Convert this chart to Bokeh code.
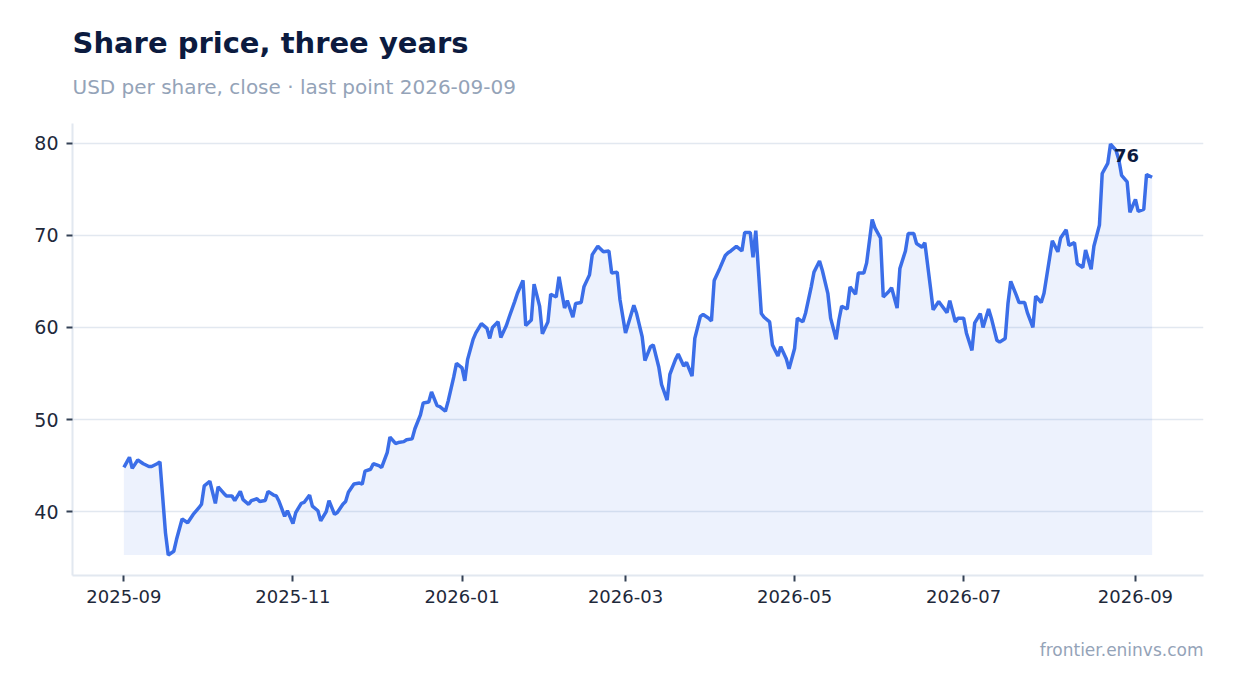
import pandas as pd

from bokeh.embed import file_html
from bokeh.models import (ColumnDataSource, DatetimeTickFormatter, Label,
                          MonthsTicker, Range1d, SingleIntervalTicker, Title)
from bokeh.plotting import figure
from bokeh.resources import INLINE

# Data (days after 2025-09-01, close in USD)
start_date = "2025-09-01"
days = [0, 2, 3, 5, 7, 9, 10, 12, 13, 15, 16, 18, 19, 21, 23, 25, 27, 28, 29, 31,
        33, 34, 36, 37, 39, 40, 42, 43, 45, 46, 48, 49, 51, 52, 54, 55, 56, 58, 59, 61,
        62, 64, 65, 67, 68, 70, 71, 73, 74, 76, 77, 79, 80, 81, 83, 85, 86, 87, 89, 90,
        92, 93, 95, 96, 98, 99, 101, 102, 104, 105, 107, 108, 110, 111, 113, 114, 116, 117, 119, 120,
        122, 123, 124, 126, 127, 129, 131, 132, 133, 135, 136, 138, 139, 141, 142, 144, 145, 147, 148, 150,
        151, 153, 154, 156, 157, 159, 160, 162, 163, 165, 166, 168, 169, 171, 172, 173, 175, 176, 178, 179,
        181, 184, 185, 187, 188, 190, 191, 193, 194, 196, 197, 199, 200, 202, 203, 205, 206, 208, 209, 211,
        212, 213, 215, 217, 218, 219, 221, 223, 224, 226, 227, 228, 230, 231, 233, 234, 236, 237, 239, 240,
        242, 243, 245, 246, 248, 249, 251, 252, 254, 255, 257, 258, 259, 261, 262, 264, 265, 267, 268, 270,
        271, 273, 274, 276, 277, 279, 280, 282, 283, 285, 286, 288, 289, 291, 292, 294, 295, 297, 298, 300,
        301, 303, 304, 306, 307, 309, 310, 312, 313, 315, 316, 318, 319, 320, 322, 323, 325, 326, 328, 329,
        331, 332, 334, 335, 337, 338, 340, 341, 343, 344, 346, 347, 349, 350, 352, 353, 355, 356, 358, 359,
        360, 362, 363, 365, 366, 368, 369, 371]
close = [44.8, 45.9, 44.7, 45.6, 45.2, 44.9, 44.9, 45.2, 45.4, 37.7, 35.3, 35.7, 37.0, 39.2, 38.8, 39.7, 40.4, 40.8, 42.8, 43.3,
         40.9, 42.7, 42.0, 41.7, 41.7, 41.2, 42.2, 41.3, 40.8, 41.2, 41.4, 41.1, 41.2, 42.2, 41.8, 41.7, 41.1, 39.5, 40.1, 38.7,
         39.9, 40.9, 41.0, 41.8, 40.6, 40.1, 39.0, 40.0, 41.2, 39.7, 39.9, 40.8, 41.1, 42.1, 43.0, 43.1, 43.0, 44.4, 44.6, 45.2,
         45.0, 44.8, 46.4, 48.1, 47.4, 47.5, 47.6, 47.8, 47.9, 49.0, 50.5, 51.8, 51.9, 53.0, 51.5, 51.4, 50.9, 52.0, 54.6, 56.1,
         55.6, 54.2, 56.5, 58.7, 59.4, 60.4, 59.9, 58.8, 60.0, 60.6, 58.9, 60.2, 61.1, 62.8, 63.7, 65.1, 60.2, 60.8, 64.7, 62.3,
         59.3, 60.6, 63.6, 63.3, 65.5, 62.1, 62.9, 61.1, 62.6, 62.7, 64.4, 65.7, 67.9, 68.8, 68.5, 68.2, 68.3, 65.9, 66.0, 63.0,
         59.4, 62.4, 61.5, 59.0, 56.4, 57.9, 58.1, 55.7, 53.8, 52.1, 54.9, 56.5, 57.1, 55.8, 56.2, 54.7, 58.8, 61.2, 61.4, 61.0,
         60.7, 65.1, 66.4, 67.8, 68.1, 68.3, 68.8, 68.3, 70.3, 70.3, 67.6, 70.5, 61.5, 61.1, 60.6, 58.1, 56.9, 57.9, 56.6, 55.5,
         57.7, 61.0, 60.6, 61.6, 64.4, 66.0, 67.2, 66.2, 63.7, 61.0, 58.7, 60.8, 62.3, 62.0, 64.4, 63.6, 65.9, 65.9, 67.0, 71.7,
         70.8, 69.7, 63.3, 63.9, 64.3, 62.1, 66.4, 68.3, 70.2, 70.2, 69.1, 68.7, 69.2, 64.4, 61.9, 62.8, 62.4, 61.6, 62.9, 60.6,
         61.0, 61.0, 59.4, 57.5, 60.5, 61.5, 60.0, 62.0, 61.0, 58.6, 58.4, 58.8, 62.6, 65.0, 63.5, 62.7, 62.7, 61.6, 60.0, 63.4,
         62.7, 63.7, 67.5, 69.4, 68.2, 69.7, 70.6, 68.9, 69.2, 66.9, 66.5, 68.4, 66.3, 68.8, 71.1, 76.7, 77.8, 79.9, 79.2, 78.2,
         76.5, 75.8, 72.5, 73.9, 72.6, 72.8, 76.6, 76.3]

title_text = "Share price, three years"
subtitle_text = "USD per share, close · last point 2026-09-09"
footer_text = "frontier.eninvs.com"

dates = pd.Timestamp(start_date) + pd.to_timedelta(days, unit="D")
base = min(close)
source = ColumnDataSource(dict(date=dates, close=close, base=[base] * len(close)))

# 5% padding on each side, like the default data range
span = dates[-1] - dates[0]
x_range = Range1d(dates[0] - span * 0.05, dates[-1] + span * 0.05)
yspan = max(close) - min(close)
y_range = Range1d(min(close) - yspan * 0.05, max(close) + yspan * 0.05)

FONT = "DejaVu Sans"

p = figure(width=1234, height=693, x_axis_type="datetime",
           x_range=x_range, y_range=y_range,
           output_backend="svg", toolbar_location=None,
           min_border_left=72, min_border_right=31,
           min_border_top=123, min_border_bottom=118)
p.outline_line_color = None
p.background_fill_color = "white"
p.border_fill_color = "white"

# area under the line, then the line
p.varea(x="date", y1="base", y2="close", source=source,
        fill_color="#3b6ee8", fill_alpha=0.09)
p.line(x="date", y="close", source=source, line_color="#3b6ee8", line_width=3.5)

# last value label
last = Label(x=dates[-1], y=close[-1], text=f"{close[-1]:.0f}",
             text_font=FONT, text_font_size="18px", text_font_style="bold",
             text_color="#0c1b3f", text_align="right", text_baseline="alphabetic",
             x_offset=-13, y_offset=22)
p.add_layout(last)

# axes
p.xaxis.ticker = MonthsTicker(months=[0, 2, 4, 6, 8, 10])
p.xaxis.formatter = DatetimeTickFormatter(months="%Y-%m", days="%Y-%m", years="%Y-%m")
p.yaxis.ticker = SingleIntervalTicker(interval=10)
for ax in (p.xaxis, p.yaxis):
    ax.axis_line_color = "#e2e8f0"
    ax.axis_line_width = 2
    ax.major_tick_line_color = "#334155"
    ax.major_tick_line_width = 2
    ax.major_tick_out = 6
    ax.major_tick_in = 0
    ax.minor_tick_line_color = None
    ax.major_label_text_font = FONT
    ax.major_label_text_color = "#1e293b"
p.xaxis.major_label_text_font_size = "18px"
p.yaxis.major_label_text_font_size = "19px"
p.xaxis.major_label_standoff = 8
p.yaxis.major_label_standoff = 8

p.xgrid.grid_line_color = None
p.ygrid.grid_line_color = "#e2e8f0"
p.ygrid.grid_line_width = 1.5

# subtitle first (nearest the frame), then the title above it
p.add_layout(Title(text=subtitle_text, align="left", standoff=50,
                   text_font=FONT, text_font_size="20px", text_font_style="normal",
                   text_color="#94a3b8"), "above")
p.add_layout(Title(text=title_text, align="left", standoff=-24,
                   text_font=FONT, text_font_size="29px", text_font_style="bold",
                   text_color="#0c1b3f"), "above")
p.add_layout(Title(text=footer_text, align="right", standoff=64,
                   text_font=FONT, text_font_size="17px", text_font_style="normal",
                   text_color="#94a3b8"), "below")

open("out.html", "w").write(file_html(p, INLINE))
